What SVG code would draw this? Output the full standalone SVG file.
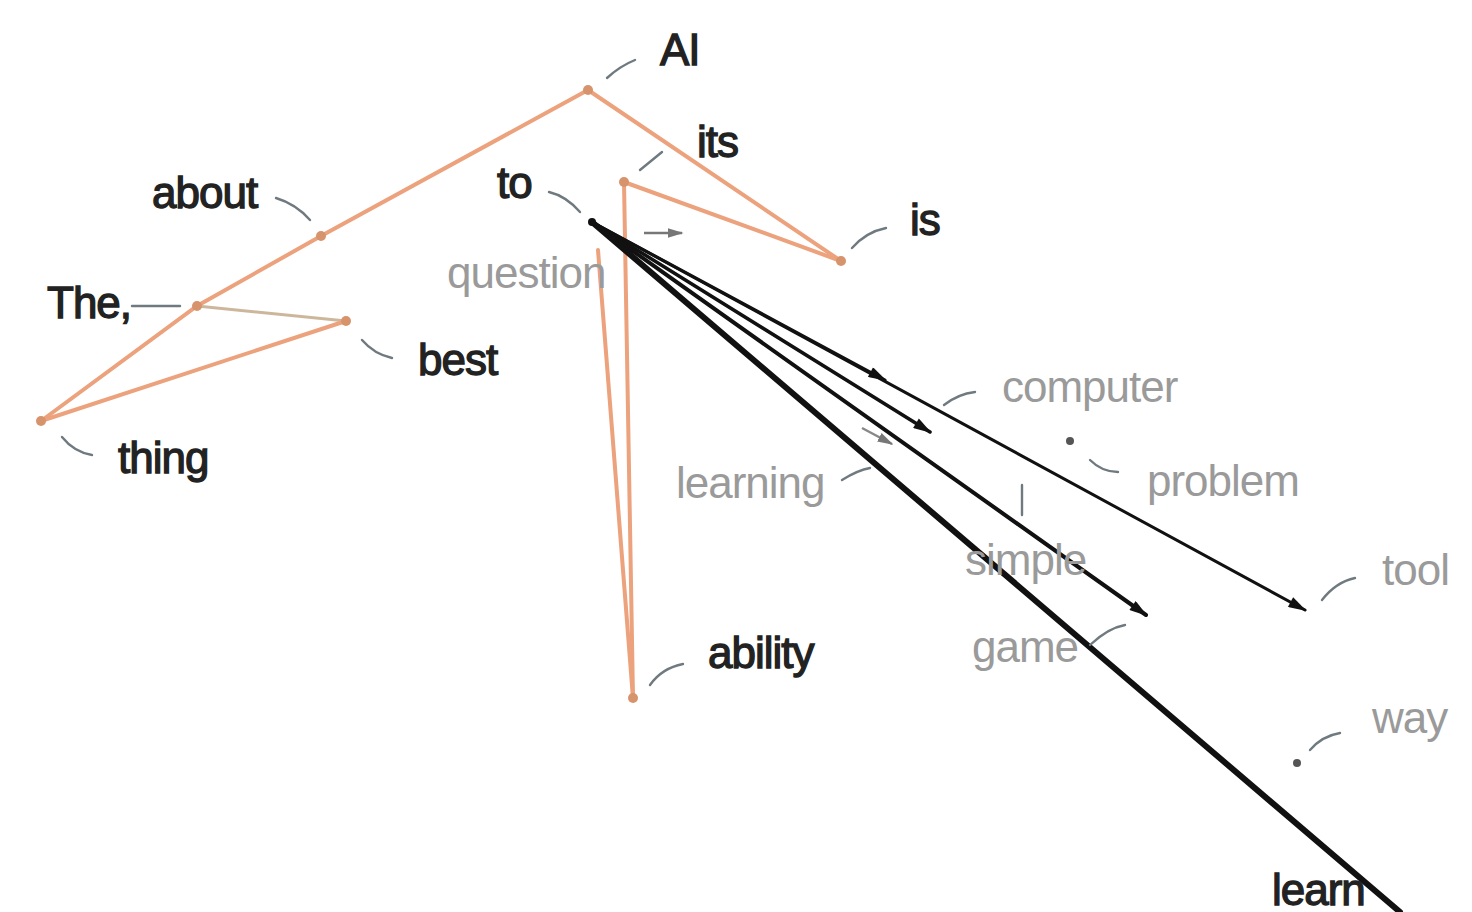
<svg xmlns="http://www.w3.org/2000/svg" width="1472" height="912" viewBox="0 0 1472 912">
<style>
.o{stroke:#eca27c;stroke-width:4;fill:none;stroke-linecap:round}
.ol{stroke:#cdb79c;stroke-width:3;fill:none}
.k{stroke:#111;fill:none;stroke-linecap:round}
.ld{stroke:#6f7a80;stroke-width:2.4;fill:none;stroke-linecap:round}
.dot{fill:#d6936c}
.gdot{fill:#555}
.t{font-family:"Liberation Sans",Arial,sans-serif;font-size:44px;letter-spacing:-1px}
.dk{fill:#222;stroke:#222;stroke-width:1.3}
.gr{fill:#9a9a9a}
</style>
<defs>
<marker id="ah" viewBox="0 0 20 12" refX="18" refY="6" markerWidth="20" markerHeight="11" markerUnits="userSpaceOnUse" orient="auto">
<path d="M0,0 L20,6 L0,12 Z" fill="#111"/>
</marker>
<marker id="ahg" viewBox="0 0 20 12" refX="18" refY="6" markerWidth="16" markerHeight="10" markerUnits="userSpaceOnUse" orient="auto">
<path d="M0,0 L20,6 L0,12 Z" fill="#777"/>
</marker>
</defs>
<rect width="1472" height="912" fill="#fff"/>
<g id="connectors">
<path class="o" d="M41,421 L197,306 L321,236 L588,90"/>
<path class="ol" d="M197,306 L346,321"/>
<path class="o" d="M346,321 L41,421"/>
<path class="o" d="M588,90 L841,261"/>
<path class="o" d="M624,182 L841,261"/>
<path class="o" d="M624,182 L633,698"/>
<path class="o" d="M598,250 L633,698"/>
<path class="k" stroke-width="3" d="M592,222 L1305,610" marker-end="url(#ah)"/>
<path class="k" stroke-width="3" d="M592,222 L885,380" marker-end="url(#ah)"/>
<path class="k" stroke-width="3.5" d="M592,222 L930,432" marker-end="url(#ah)"/>
<path class="k" stroke-width="4" d="M592,222 L1146,615" marker-end="url(#ah)"/>
<path class="k" stroke-width="6" d="M592,222 L1400,912"/>
<path stroke="#777" stroke-width="2.5" fill="none" d="M644,233 L682,233" marker-end="url(#ahg)"/>
<path stroke="#888" stroke-width="2.5" fill="none" d="M862,428 L892,444" marker-end="url(#ahg)"/>
</g>
<g id="n-AI"><circle class="dot" cx="588" cy="90" r="5"/><path class="ld" d="M607,78 Q620,66 635,60"/><text class="t dk" x="660" y="65">AI</text></g>
<g id="n-about"><circle class="dot" cx="321" cy="236" r="5"/><path class="ld" d="M276,198 Q296,204 310,220"/><text class="t dk" x="152" y="208">about</text></g>
<g id="n-The"><circle class="dot" cx="197" cy="306" r="5"/><path class="ld" d="M132,306 L180,306"/><text class="t dk" x="47" y="318">The,</text></g>
<g id="n-best"><circle class="dot" cx="346" cy="321" r="5"/><path class="ld" d="M362,340 Q374,354 392,358"/><text class="t dk" x="418" y="375">best</text></g>
<g id="n-thing"><circle class="dot" cx="41" cy="421" r="5"/><path class="ld" d="M62,437 Q74,452 92,455"/><text class="t dk" x="118" y="473">thing</text></g>
<g id="n-its"><circle class="dot" cx="624" cy="182" r="5"/><path class="ld" d="M640,170 L662,152"/><text class="t dk" x="697" y="157">its</text></g>
<g id="n-is"><circle class="dot" cx="841" cy="261" r="5"/><path class="ld" d="M852,248 Q866,232 886,228"/><text class="t dk" x="910" y="235">is</text></g>
<g id="n-to"><circle fill="#111" cx="592" cy="222" r="4"/><path class="ld" d="M549,192 Q566,196 580,212"/><text class="t dk" x="497" y="198">to</text></g>
<g id="n-question"><text class="t gr" x="447" y="288">question</text></g>
<g id="n-ability"><circle class="dot" cx="633" cy="698" r="5"/><path class="ld" d="M650,685 Q662,668 683,664"/><text class="t dk" x="708" y="668">ability</text></g>
<g id="n-computer"><path class="ld" d="M944,405 Q958,394 975,392"/><text class="t gr" x="1002" y="402">computer</text></g>
<g id="n-problem"><circle class="gdot" cx="1070" cy="441" r="4"/><path class="ld" d="M1090,460 Q1102,472 1118,472"/><text class="t gr" x="1147" y="496">problem</text></g>
<g id="n-learning"><path class="ld" d="M842,480 Q858,470 870,468"/><text class="t gr" x="676" y="498">learning</text></g>
<g id="n-simple"><path class="ld" d="M1022,485 L1022,515"/><text class="t gr" x="965" y="575">simple</text></g>
<g id="n-game"><path class="ld" d="M1090,645 Q1108,628 1125,625"/><text class="t gr" x="972" y="662">game</text></g>
<g id="n-tool"><path class="ld" d="M1322,600 Q1336,582 1355,578"/><text class="t gr" x="1382" y="585">tool</text></g>
<g id="n-way"><circle class="gdot" cx="1297" cy="763" r="4"/><path class="ld" d="M1310,750 Q1322,736 1340,733"/><text class="t gr" x="1372" y="733">way</text></g>
<g id="n-learn"><text class="t dk" x="1272" y="905">learn</text></g>
</svg>
